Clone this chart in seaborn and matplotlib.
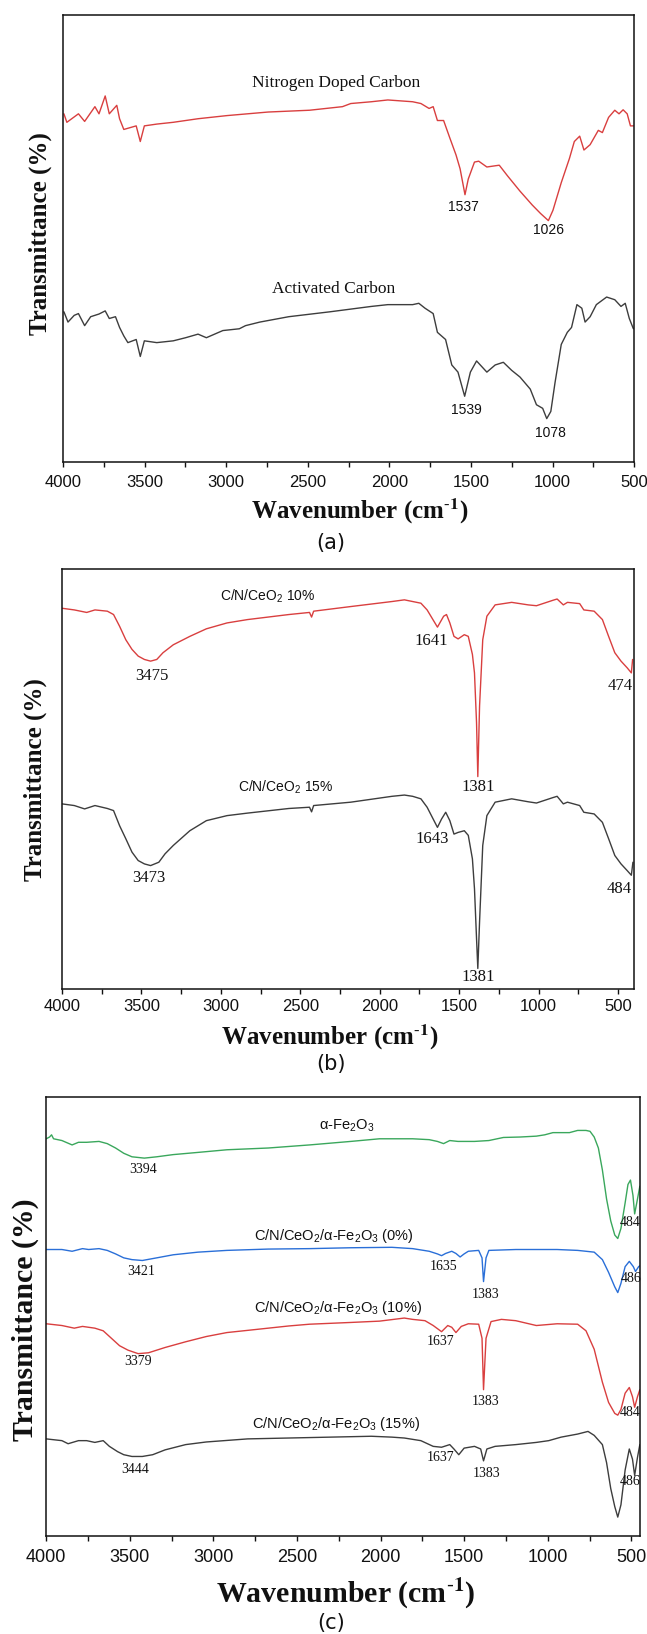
import matplotlib
matplotlib.use("Agg")
import matplotlib.pyplot as plt
from matplotlib.ticker import MultipleLocator
import seaborn as sns
import pandas as pd

# ---------------- data: panel (a) ----------------
a_ndc_wn = [3995, 3977, 3906, 3868, 3805, 3780, 3742, 3717, 3671, 3654, 3628, 3590, 3552, 3527, 3502,
            3426, 3325, 3173, 2996, 2743, 2490, 2288, 2237, 2111, 2010, 1858, 1807, 1757, 1732, 1706,
            1668, 1630, 1592, 1567, 1537, 1517, 1479, 1453, 1403, 1327, 1276, 1200, 1125, 1074, 1026,
            998, 947, 897, 867, 834, 808, 770, 720, 695, 657, 619, 593, 568, 543, 523, 505]
a_ndc_t = [77.8, 75.9, 77.8, 76.1, 79.4, 77.8, 81.8, 77.8, 79.7, 76.7, 74.3, 74.7, 75.1, 71.6, 75.1,
           75.5, 75.9, 76.7, 77.4, 78.2, 78.6, 79.4, 80.1, 80.5, 80.9, 80.5, 80.1, 79.0, 79.4, 76.3,
           76.3, 72.4, 68.6, 65.5, 59.7, 63.2, 67.0, 67.2, 65.9, 66.3, 63.9, 60.5, 57.4, 55.5, 53.9,
           56.2, 62.4, 67.8, 71.6, 72.8, 69.7, 70.9, 74.1, 73.6, 77.0, 78.6, 77.8, 78.7, 77.8, 75.1, 75.1]
a_ac_wn = [3995, 3970, 3932, 3906, 3868, 3831, 3780, 3742, 3717, 3679, 3654, 3628, 3603, 3552, 3527,
           3502, 3426, 3325, 3249, 3173, 3122, 3021, 2920, 2882, 2794, 2617, 2364, 2111, 2010, 1858,
           1820, 1782, 1732, 1706, 1656, 1618, 1580, 1539, 1504, 1466, 1403, 1352, 1302, 1251, 1200,
           1137, 1099, 1061, 1036, 1011, 985, 947, 910, 884, 851, 821, 801, 770, 732, 669,
           619, 581, 555, 530, 505]
a_ac_t = [33.5, 31.2, 32.7, 33.1, 30.4, 32.4, 33.0, 33.7, 32.0, 32.4, 30.0, 28.1, 26.6, 27.3, 23.5,
          27.0, 26.6, 27.0, 27.7, 28.5, 27.7, 29.3, 29.7, 30.4, 31.2, 32.4, 33.5, 34.7, 35.1, 35.1,
          35.4, 34.3, 33.1, 28.9, 27.3, 21.6, 20.0, 14.6, 20.0, 22.5, 20.0, 21.6, 22.2, 20.4, 18.9,
          16.2, 12.7, 11.9, 9.6, 11.2, 17.7, 26.2, 28.9, 30.0, 35.1, 34.3, 31.2, 32.4, 35.1, 36.8,
          36.2, 34.7, 35.4, 32.0, 29.7]
a_labels = ["Nitrogen Doped Carbon", "Activated Carbon"]
a_label_pos = [(2326, 84.6), (2344, 38.5)]
a_peaks = [("1537", 1549, 57.0), ("1026", 1023, 51.8), ("1539", 1529, 11.6), ("1078", 1011, 6.3)]

# ---------------- data: panel (b) ----------------
b_wn_10 = [4000, 3922, 3844, 3792, 3714, 3675, 3637, 3598, 3559, 3520, 3481, 3442, 3403, 3364, 3299,
           3195, 3091, 2961, 2832, 2572, 2442, 2429, 2416, 2183, 1923, 1845, 1793, 1741, 1702, 1637,
           1598, 1580, 1559, 1533, 1507, 1468, 1443, 1417, 1404, 1391, 1383, 1372, 1352, 1326, 1274,
           1170, 1066, 1014, 910, 884, 845, 819, 742, 716, 651, 599, 560, 521, 482, 443, 417, 409]
b_t_10 = [90.7, 90.3, 89.7, 90.3, 90.0, 89.2, 86.4, 83.2, 80.9, 79.3, 78.5, 78.1, 78.5, 80.1, 82.0,
          84.0, 85.8, 87.2, 88.0, 89.2, 89.7, 88.6, 90.0, 91.1, 92.3, 92.7, 92.3, 91.9, 90.3, 86.2,
          88.8, 89.2, 87.2, 84.0, 83.4, 84.4, 84.0, 79.7, 75.3, 63.4, 50.6, 67.4, 83.2, 88.8, 91.5,
          92.1, 91.5, 91.3, 92.6, 92.9, 91.5, 92.1, 91.8, 90.3, 90.0, 88.0, 84.0, 80.1, 78.1, 76.5, 75.3, 78.5]
b_wn_15 = [4000, 3922, 3857, 3792, 3714, 3675, 3637, 3598, 3559, 3520, 3481, 3442, 3390, 3351, 3299,
           3195, 3091, 2961, 2832, 2572, 2442, 2429, 2416, 2183, 1923, 1845, 1793, 1741, 1702, 1637,
           1611, 1585, 1559, 1533, 1507, 1468, 1443, 1417, 1404, 1391, 1383, 1372, 1352, 1326, 1274,
           1170, 1066, 1014, 910, 884, 845, 819, 742, 716, 651, 599, 560, 521, 482, 443, 417, 407]
b_t_15 = [44.1, 43.7, 42.9, 43.7, 43.0, 42.5, 38.9, 35.8, 32.6, 30.6, 29.8, 29.4, 30.2, 32.2, 34.2,
          37.7, 40.1, 41.3, 41.9, 43.0, 43.3, 42.2, 43.7, 44.5, 45.9, 46.2, 45.9, 45.3, 43.3, 38.5,
          40.5, 42.1, 40.1, 36.9, 37.3, 37.7, 36.6, 31.0, 23.9, 12.0, 4.9, 16.0, 34.2, 41.3, 44.5,
          45.3, 44.6, 44.3, 45.6, 45.9, 44.1, 44.5, 43.7, 42.1, 41.7, 39.7, 35.8, 31.8, 29.8, 28.2, 27.1, 30.2]
b_labels = ["C/N/CeO$_2$ 10%", "C/N/CeO$_2$ 15%"]
b_label_pos = [(2702, 93.5), (2593, 48.0)]
b_peaks = [("3475", 3434, 74.5), ("1641", 1676, 82.8), ("1381", 1383, 48.0), ("474", 490, 72.2),
           ("3473", 3450, 26.4), ("1643", 1671, 35.8), ("1381", 1383, 2.9), ("484", 495, 23.9)]

# ---------------- data: panel (c) ----------------
c_wn_fe = [4000, 3980, 3968, 3956, 3906, 3845, 3807, 3758, 3684, 3635, 3585, 3536, 3487, 3413, 3339,
           3240, 3092, 2919, 2672, 2425, 2178, 2006, 1808, 1709, 1660, 1623, 1586, 1537, 1438, 1352,
           1265, 1166, 1068, 1018, 969, 870, 821, 771, 747, 722, 697, 673, 648, 623, 599,
           581, 562, 537, 520, 505, 490, 480, 463, 449]
c_t_fe = [90.4, 90.8, 91.3, 90.4, 90.0, 89.0, 89.6, 89.6, 89.8, 89.3, 88.3, 87.1, 86.3, 86.0, 86.3,
          86.8, 87.3, 87.9, 88.3, 89.0, 89.8, 90.4, 90.4, 90.2, 89.8, 89.3, 90.0, 89.8, 89.8, 90.0,
          90.7, 90.8, 91.0, 91.3, 91.8, 91.8, 92.3, 92.3, 92.1, 90.8, 88.3, 83.3, 76.7, 71.7, 68.5,
          67.7, 70.0, 75.8, 80.0, 81.0, 77.5, 73.3, 76.7, 79.6]
c_wn_0 = [4000, 3906, 3845, 3783, 3746, 3684, 3635, 3585, 3536, 3487, 3425, 3339, 3240, 3092, 2919,
          2672, 2425, 2178, 1932, 1808, 1709, 1660, 1635, 1611, 1574, 1549, 1524, 1500, 1475, 1413,
          1393, 1384, 1369, 1352, 1191, 944, 821, 722, 673, 636, 599, 581, 562, 537, 512,
          488, 475, 456, 449]
c_t_0 = [65.2, 65.2, 64.8, 65.4, 65.2, 65.4, 65.0, 64.2, 63.3, 62.9, 62.7, 63.3, 64.0, 64.6, 65.0,
         65.3, 65.4, 65.6, 65.7, 65.4, 64.8, 64.2, 63.8, 64.3, 64.8, 64.3, 63.5, 64.2, 64.8, 65.0,
         63.3, 57.9, 63.3, 65.0, 65.2, 65.2, 65.0, 64.6, 62.9, 60.0, 56.7, 55.4, 57.5, 61.3, 62.5,
         61.3, 60.2, 61.3, 61.5]
c_wn_10 = [4000, 3906, 3832, 3783, 3709, 3659, 3610, 3561, 3511, 3450, 3388, 3289, 3166, 3042, 2919,
           2795, 2549, 2425, 2178, 2006, 1858, 1808, 1734, 1685, 1635, 1598, 1574, 1549, 1517, 1475,
           1413, 1393, 1384, 1369, 1339, 1277, 1191, 1068, 944, 821, 771, 722, 673, 636, 599,
           581, 562, 537, 512, 493, 480, 463, 449]
c_t_10 = [48.3, 47.9, 47.3, 47.7, 47.3, 46.7, 45.0, 43.3, 42.3, 41.5, 41.7, 42.9, 44.2, 45.4, 46.3,
          46.8, 47.8, 48.2, 48.6, 48.9, 49.6, 49.3, 49.0, 47.9, 46.5, 47.9, 47.5, 46.3, 47.7, 48.3,
          48.2, 45.0, 33.3, 45.0, 48.8, 49.3, 49.0, 47.9, 48.3, 48.2, 46.7, 42.5, 35.0, 30.4, 27.9,
          27.5, 28.8, 32.5, 33.8, 31.7, 29.3, 31.7, 33.3]
c_wn_15 = [4000, 3906, 3869, 3807, 3758, 3709, 3659, 3622, 3573, 3536, 3487, 3425, 3363, 3289, 3166,
           3042, 2795, 2549, 2302, 2055, 1932, 1858, 1759, 1685, 1635, 1586, 1561, 1532, 1500, 1438,
           1401, 1384, 1364, 1315, 1191, 1068, 994, 920, 821, 759, 722, 673, 648, 623, 599,
           581, 562, 537, 512, 493, 480, 463, 449]
c_t_15 = [22.1, 21.7, 21.0, 21.7, 21.7, 21.3, 21.7, 20.4, 19.2, 18.5, 18.1, 18.1, 18.5, 19.6, 20.8,
          21.4, 22.1, 22.3, 22.5, 22.7, 22.5, 22.3, 21.7, 20.4, 20.2, 20.8, 19.8, 18.5, 20.0, 20.4,
          19.8, 17.1, 19.8, 20.4, 20.8, 21.3, 21.7, 22.5, 23.2, 23.8, 22.9, 20.8, 16.7, 10.8, 6.7,
          4.3, 7.1, 15.0, 19.8, 17.5, 13.8, 17.9, 20.8]
c_labels = ["α-Fe$_2$O$_3$", "C/N/CeO$_2$/α-Fe$_2$O$_3$ (0%)",
            "C/N/CeO$_2$/α-Fe$_2$O$_3$ (10%)", "C/N/CeO$_2$/α-Fe$_2$O$_3$ (15%)"]
c_label_pos = [(2203, 93.3), (2277, 68.3), (2252, 51.9), (2265, 25.4)]
c_peaks = [("3394", 3418, 83.5), ("484", 505, 71.3),
           ("3421", 3432, 60.2), ("1635", 1623, 61.3), ("1383", 1369, 55.0), ("486", 500, 58.6),
           ("3379", 3450, 39.8), ("1637", 1643, 44.3), ("1383", 1369, 30.7), ("484", 505, 28.1),
           ("3444", 3467, 15.2), ("1637", 1643, 17.9), ("1383", 1364, 14.2), ("486", 505, 12.5)]

xticks_major = [4000, 3500, 3000, 2500, 2000, 1500, 1000, 500]

# ---------------- style ----------------
sns.set_style("white")
plt.rcParams["font.family"] = ["Liberation Sans", "DejaVu Sans"]
plt.rcParams["mathtext.fontset"] = "custom"
plt.rcParams["mathtext.rm"] = "Liberation Sans"
plt.rcParams["mathtext.it"] = "Liberation Sans:italic"
plt.rcParams["mathtext.bf"] = "Liberation Sans:bold"

RED = "#d93f3f"
GRAY = "#3d3d3d"
GREEN = "#3aa75c"
BLUE = "#2a6fd8"
LW = 1.0

W, H = 647, 1634
fig = plt.figure(figsize=(W / 100, H / 100), dpi=100)


def make_ax(l, r, t, b):
    return fig.add_axes([l / W, 1 - b / H, (r - l) / W, (b - t) / H])


def style_ax(ax, xr, tick_fs, pad):
    ax.set_xlim(4000, xr)
    ax.set_ylim(0, 100)
    ax.set_xticks(xticks_major)
    ax.xaxis.set_minor_locator(MultipleLocator(250))
    ax.set_yticks([])
    ax.set_xlabel("")
    ax.set_ylabel("")
    for s in ax.spines.values():
        s.set_visible(True)
        s.set_color("#111111")
        s.set_linewidth(1.1)
    ax.tick_params(axis="x", which="both", direction="out", length=3.5, width=1.0,
                   color="#111111", bottom=True, top=False, pad=pad,
                   labelsize=tick_fs, labelcolor="#111111")
    for lab in ax.get_xticklabels():
        lab.set_fontfamily("Liberation Sans")


def series(ax, wn, t, color):
    df = pd.DataFrame({"wn": wn, "t": t})
    sns.lineplot(data=df, x="wn", y="t", ax=ax, color=color, lw=LW,
                 estimator=None, sort=False, legend=False)


def axis_titles(ax, xlx, xly, ylx, yly, fs):
    ax.text(xlx, xly, "Wavenumber (cm$^{\\mathbf{\\text{-}1}}$)", transform=ax.transAxes,
            ha="center", va="center", fontsize=fs, fontweight="bold",
            family="Liberation Serif", math_fontfamily="stix", color="#111111")
    ax.text(ylx, yly, "Transmittance (%)", transform=ax.transAxes, rotation=90,
            ha="center", va="center", fontsize=fs, fontweight="bold",
            family="Liberation Serif", color="#111111")


# ---------------- panel (a) ----------------
axa = make_ax(63.1, 634.2, 14.6, 461.5)
series(axa, a_ndc_wn, a_ndc_t, RED)
series(axa, a_ac_wn, a_ac_t, GRAY)
style_ax(axa, 500, 12, 6)
for lab, (x, y) in zip(a_labels, a_label_pos):
    axa.text(x, y, lab, ha="center", va="center", fontsize=12.5,
             family="Liberation Serif", color="#111111")
for lab, x, y in a_peaks:
    axa.text(x, y, lab, ha="center", va="center", fontsize=10,
             family="Liberation Sans", color="#111111")
axis_titles(axa, 0.52, -0.111, -0.040, 0.509, 18)

# ---------------- panel (b) ----------------
axb = make_ax(61.9, 634.2, 569.2, 989)
series(axb, b_wn_10, b_t_10, RED)
series(axb, b_wn_15, b_t_15, GRAY)
style_ax(axb, 399, 12, 4)
for lab, (x, y) in zip(b_labels, b_label_pos):
    axb.text(x, y, lab, ha="center", va="center", fontsize=10,
             family="Liberation Sans", color="#111111")
for lab, x, y in b_peaks:
    axb.text(x, y, lab, ha="center", va="center", fontsize=12,
             family="Liberation Serif", color="#111111")
axis_titles(axb, 0.4685, -0.114, -0.046, 0.500, 18)

# ---------------- panel (c) ----------------
axc = make_ax(46.2, 640, 1096.6, 1536)
series(axc, c_wn_fe, c_t_fe, GREEN)
series(axc, c_wn_0, c_t_0, BLUE)
series(axc, c_wn_10, c_t_10, RED)
series(axc, c_wn_15, c_t_15, GRAY)
style_ax(axc, 448, 13, 6)
for lab, (x, y) in zip(c_labels, c_label_pos):
    axc.text(x, y, lab, ha="center", va="center", fontsize=10.5,
             family="Liberation Sans", color="#111111")
for lab, x, y in c_peaks:
    axc.text(x, y, lab, ha="center", va="center", fontsize=10,
             family="Liberation Serif", color="#111111")
axis_titles(axc, 0.505, -0.132, -0.035, 0.492, 21.5)

# ---------------- panel letters ----------------
for letter, yc in [("(a)", 543), ("(b)", 1064), ("(c)", 1623)]:
    fig.text(331 / W, 1 - yc / H, letter, ha="center", va="center", fontsize=15,
             family="DejaVu Sans", color="#111111")

fig.savefig("out.png", dpi=100, facecolor="white")
